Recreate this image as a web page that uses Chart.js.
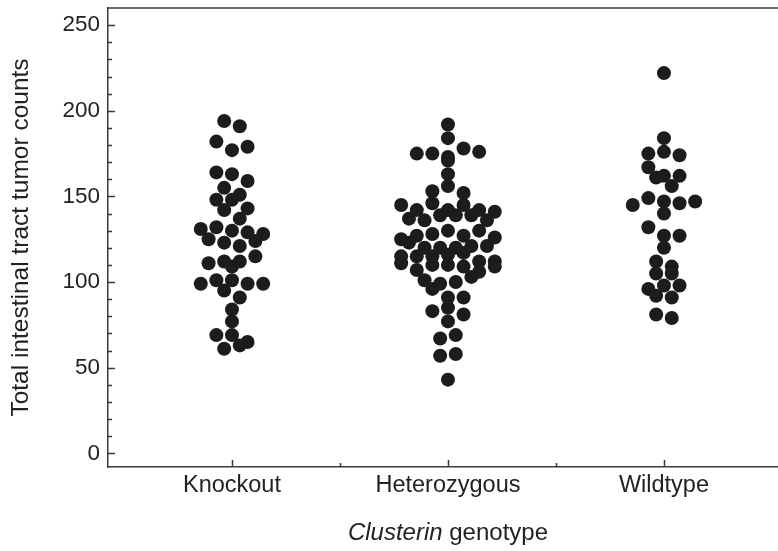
<!DOCTYPE html>
<html>
<head>
<meta charset="utf-8">
<script src="https://cdn.jsdelivr.net/npm/chart.js@4.4.1/dist/chart.umd.min.js"></script>
<style>
  html, body { margin: 0; padding: 0; background: #fff; }
</style>
</head>
<body>
<canvas id="swarm" width="778" height="551"></canvas>
<script>
// values, in reading order (top to bottom, left to right)
var genotypes = ["Knockout", "Heterozygous", "Wildtype"];
var knockout = [194, 191, 182, 177, 179, 164, 163, 159, 155, 151, 148, 148, 143, 142, 137,
  131, 132, 130, 129, 128, 125, 123, 121, 124, 111, 112, 109, 112, 115, 95, 99, 101, 101,
  99, 99, 91, 84, 77, 69, 69, 65, 61, 63];
var heterozygous = [192, 184, 175, 175, 173, 178, 171, 176, 163, 153, 156, 152, 137, 136,
  145, 142, 146, 142, 139, 145, 142, 139, 139, 141, 136, 125, 127, 128, 130, 127, 123, 130,
  126, 120, 120, 115, 120, 115, 121, 115, 116, 121, 117, 111, 107, 112, 110, 110, 109, 106,
  112, 109, 101, 99, 100, 103, 96, 91, 91, 83, 85, 81, 77, 67, 69, 57, 58, 43];
var wildtype = [222, 184, 175, 176, 174, 167, 162, 162, 161, 156, 145, 149, 147, 146, 147,
  140, 132, 127, 127, 120, 112, 109, 105, 105, 96, 98, 98, 92, 91, 81, 79];
var yTicks = [0, 50, 100, 150, 200, 250];
var yTitle = "Total intestinal tract tumor counts";

var groups = [knockout, heterozygous, wildtype];
var FONT = "'Liberation Sans', Arial, sans-serif";
var INK = "#1c1c1c";
var ROW_PX = 9.5;   // points closer than this (vertically) share a row
var STEP_PX = 15.6; // horizontal distance between points of a row

// simple binned beeswarm: rows of close values are spread around the column centre
function swarmOffsets(values, toPx) {
  var order = values.map(function (v, i) { return i; })
    .sort(function (a, b) { return values[b] - values[a] || a - b; });
  var out = [];
  var row = [], start = 0;
  function flush() {
    row.sort(function (a, b) { return a - b; });
    var n = row.length;
    row.forEach(function (i, k) { out[i] = (k - (n - 1) / 2) * STEP_PX; });
    row = [];
  }
  order.forEach(function (i) {
    var p = toPx(values[i]);
    if (row.length && p - start >= ROW_PX) flush();
    if (!row.length) start = p;
    row.push(i);
  });
  flush();
  return out;
}

function buildPoints(chart) {
  var xs = chart.scales.x, ys = chart.scales.y;
  var perCat = xs.getPixelForValue(1) - xs.getPixelForValue(0);
  var pts = [];
  groups.forEach(function (vals, g) {
    var offs = swarmOffsets(vals, function (v) { return ys.getPixelForValue(v); });
    vals.forEach(function (v, i) {
      pts.push({ x: g + offs[i] / perCat, y: v });
    });
  });
  return pts;
}

// no extra room for the end labels: the plot box is fixed
function noPad(s) {
  s.paddingTop = 0; s.paddingBottom = 0; s.paddingLeft = 0; s.paddingRight = 0;
}

var frame = {
  id: "frame",
  afterDraw: function (chart) {
    var ctx = chart.ctx, a = chart.chartArea;
    var xs = chart.scales.x, ys = chart.scales.y;
    ctx.save();
    ctx.strokeStyle = "#3a3a3a";
    ctx.lineWidth = 1.5;
    ctx.beginPath();
    ctx.moveTo(a.left, a.top);
    ctx.lineTo(a.right, a.top);
    for (var v = 0; v <= 250; v += 10) {
      var py = Math.round(ys.getPixelForValue(v)) + 0.5;
      ctx.moveTo(a.left, py);
      ctx.lineTo(a.left + (v % 50 === 0 ? 7 : 4), py);
    }
    for (var c = 0; c <= 2; c += 0.5) {
      var px = Math.round(xs.getPixelForValue(c)) + 0.5;
      ctx.moveTo(px, a.bottom);
      ctx.lineTo(px, a.bottom - (c % 1 === 0 ? 7 : 4));
    }
    ctx.stroke();

    // axis title with the gene name in italics
    var cx = xs.getPixelForValue(1), ty = 533;
    var it = "Clusterin", rest = " genotype";
    ctx.fillStyle = "#222";
    ctx.textBaseline = "middle";
    ctx.textAlign = "left";
    ctx.font = "italic 24px " + FONT;
    var w1 = ctx.measureText(it).width;
    ctx.font = "24px " + FONT;
    var w2 = ctx.measureText(rest).width;
    var x0 = cx - (w1 + w2) / 2;
    ctx.font = "italic 24px " + FONT;
    ctx.fillText(it, x0, ty);
    ctx.font = "24px " + FONT;
    ctx.fillText(rest, x0 + w1, ty);
    ctx.restore();
  }
};

var chart = new Chart(document.getElementById("swarm"), {
  type: "scatter",
  data: {
    datasets: [{
      data: [],
      backgroundColor: INK,
      borderWidth: 0,
      pointRadius: 7,
      pointHoverRadius: 7
    }]
  },
  options: {
    responsive: false,
    animation: false,
    layout: { autoPadding: false, padding: { top: 8, right: 0, bottom: 0, left: 0 } },
    plugins: { legend: { display: false }, tooltip: { enabled: false } },
    scales: {
      x: {
        type: "linear",
        min: -0.574,
        max: 2.528,
        grid: { display: false, drawTicks: false },
        border: { display: true, color: "#3a3a3a", width: 1.5 },
        afterBuildTicks: function (s) { s.ticks = [0, 1, 2].map(function (v) { return { value: v }; }); },
        afterFit: function (s) { s.height = 84; noPad(s); },
        ticks: {
          autoSkip: false,
          maxRotation: 0,
          padding: 4,
          color: "#222",
          font: { family: FONT, size: 23.5 },
          callback: function (v) { return genotypes[v]; }
        }
      },
      y: {
        min: -8,
        max: 260,
        grid: { display: false, drawTicks: false },
        border: { display: true, color: "#3a3a3a", width: 1.5 },
        afterBuildTicks: function (s) { s.ticks = yTicks.map(function (v) { return { value: v }; }); },
        afterFit: function (s) { s.width = 108; noPad(s); },
        ticks: {
          padding: 8,
          color: "#222",
          font: { family: FONT, size: 22.5 }
        },
        title: {
          display: true,
          text: yTitle,
          color: "#222",
          font: { family: FONT, size: 24.5 },
          padding: { top: 7, bottom: 0 }
        }
      }
    }
  },
  plugins: [frame]
});

chart.data.datasets[0].data = buildPoints(chart);
chart.update("none");
</script>
</body>
</html>
